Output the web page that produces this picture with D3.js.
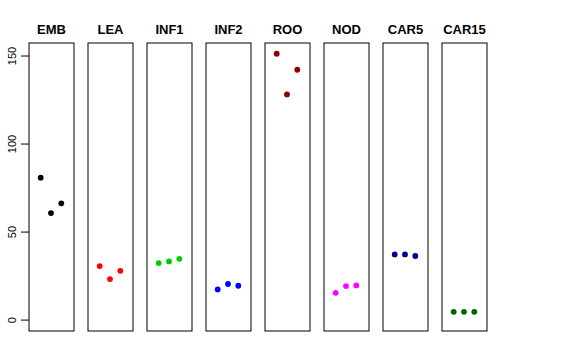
<!DOCTYPE html>
<html>
<head>
<meta charset="utf-8">
<script src="https://cdn.jsdelivr.net/npm/d3@7"></script>
<style>
  body { margin: 0; background: #fff; }
  svg text { font-family: "Liberation Sans", Arial, Helvetica, sans-serif; }
</style>
</head>
<body>
<div id="js_chart"></div>
<script>
// data
const groups = ["EMB", "LEA", "INF1", "INF2", "ROO", "NOD", "CAR5", "CAR15"];
const colors = ["#000000", "#FF0000", "#00CD00", "#0000FF", "#8B0000", "#FF00FF", "#00008B", "#006400"];
const values = [
    [80.9, 60.8, 66.3],
    [30.7, 23.3, 28.0],
    [32.4, 33.3, 34.8],
    [17.4, 20.5, 19.5],
    [151.3, 128.2, 142.2],
    [15.5, 19.3, 19.7],
    [37.3, 37.3, 36.4],
    [4.7, 4.7, 4.7]
];
const yTicks = [0, 50, 100, 150];

// ******************************************************
// Settings
// ******************************************************
let width = 576, height = 360;
let panel = {left: 29, top: 43, bottom: 331, width: 45, step: 59};

let y = d3.scaleLinear()
    .domain([-6.2, 157.4])
    .range([panel.bottom, panel.top]);

let xPanel = d3.scaleBand()
    .domain(groups)
    .range([panel.left, panel.left + panel.step * (groups.length - 1) + panel.width])
    .paddingInner((panel.step - panel.width) / panel.step)
    .paddingOuter(0);

// position inside a panel (replicate 1..3)
let xIn = d3.scaleLinear().domain([1, 3]).range([11.7, 32.3]);

let svg = d3.select("#js_chart")
    .append("svg")
    .attr("width", width)
    .attr("height", height);

// y axis ticks on the left of the first panel
let yAxis = svg.append("g")
    .attr("transform", "translate(" + panel.left + ",0)")
    .call(d3.axisLeft(y).tickValues(yTicks).tickSize(8));
yAxis.select(".domain").remove();
yAxis.selectAll(".tick").attr("transform", null);
yAxis.selectAll(".tick line")
    .attr("stroke", "#000")
    .attr("y1", function(d) { return y(d); })
    .attr("y2", function(d) { return y(d); });
yAxis.selectAll(".tick text")
    .attr("font-size", 11)
    .attr("fill", "#000")
    .attr("text-anchor", "middle")
    .attr("x", -17)
    .attr("y", function(d) { return y(d); })
    .attr("dy", "0.35em")
    .attr("transform", function(d) { return "rotate(-90," + (-17) + "," + y(d) + ")"; });

groups.forEach(function(g, i) {
    let gx = xPanel(g);
    let pg = svg.append("g").attr("transform", "translate(" + gx + ",0)");

    pg.append("rect")
        .attr("x", 0)
        .attr("y", panel.top)
        .attr("width", xPanel.bandwidth())
        .attr("height", panel.bottom - panel.top)
        .attr("fill", "none")
        .attr("stroke", "#000")
        .attr("stroke-width", 1);

    pg.append("text")
        .attr("x", xPanel.bandwidth() / 2)
        .attr("y", 34)
        .attr("text-anchor", "middle")
        .attr("font-size", 13)
        .attr("font-weight", "bold")
        .text(g);

    pg.selectAll("circle")
        .data(values[i])
        .enter()
        .append("circle")
            .attr("cx", function(d, j) { return xIn(j + 1); })
            .attr("cy", function(d) { return y(d); })
            .attr("r", 2.9)
            .attr("fill", colors[i]);
});
</script>
</body>
</html>
